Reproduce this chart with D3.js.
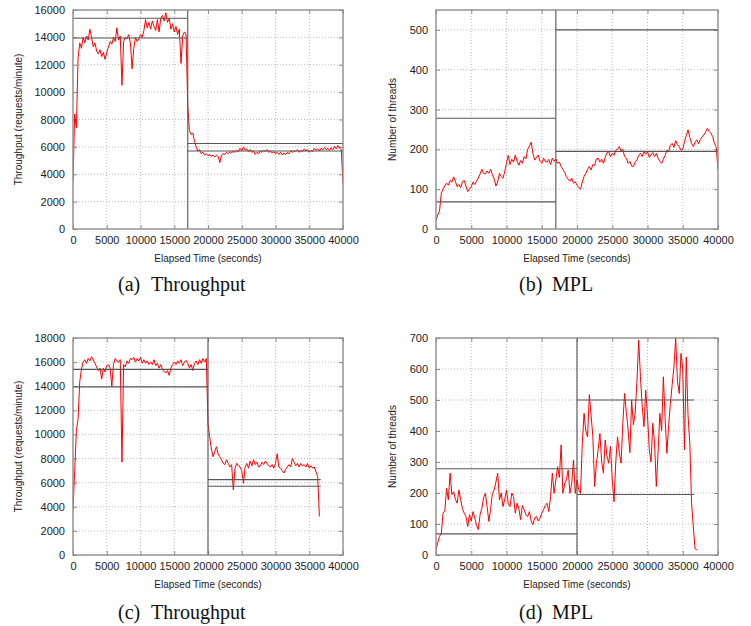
<!DOCTYPE html>
<html>
<head>
<meta charset="utf-8">
<script src="https://cdn.jsdelivr.net/npm/d3@7"></script>
<style>
  body { margin: 0; background: #fff; }
  svg { display: block; }
  .tick text { font-family: "Liberation Sans", Arial, sans-serif; font-size: 11px; fill: #222; }
  .tick line { stroke: #8c8c8c; }
  .title { font-family: "Liberation Sans", Arial, sans-serif; font-size: 10px; fill: #222; }
  .caption { font-family: "Liberation Serif", "Times New Roman", serif; font-size: 20px; fill: #111; }
</style>
</head>
<body>
<svg id="chart" width="751" height="626"></svg>
<script>
// sample spacing of the logged series (seconds)
const sampleStep = 250;
const xTicks = [0, 5000, 10000, 15000, 20000, 25000, 30000, 35000, 40000];

// (a) throughput, requests/minute, every 250 s from 0
const tputA = [
  3500, 8400, 7400, 12500, 13600, 13200, 14000, 13600,
  14100, 13800, 14600, 14000, 13300, 13600, 13000, 12800,
  13100, 12600, 12900, 12400, 12900, 13300, 13700, 13500,
  14000, 13700, 14700, 13800, 14100, 10500, 13700, 14000,
  13900, 14200, 13600, 11700, 13200, 14000, 13700, 13900,
  14200, 14000, 14500, 15300, 14700, 15100, 14600, 15200,
  14800, 14500, 15300, 14400, 15400, 15600, 15200, 15800,
  15100, 15400, 14600, 15000, 14400, 14800, 14200, 14600,
  12100, 14100, 14400, 14200, 9000, 7200, 6900, 7000,
  6400, 6000, 5700, 5800, 5500, 5600, 5400, 5500,
  5350, 5450, 5300, 5400, 5250, 5400, 5300, 4850,
  5400, 5500, 5450, 5600, 5500, 5650, 5550, 5700,
  5600, 5750, 5650, 5900, 5700, 6000, 5750, 5850,
  5650, 5800, 5600, 5700, 5450, 5600, 5500, 5700,
  5600, 5750, 5650, 5800, 5600, 5700, 5550, 5650,
  5500, 5600, 5450, 5600, 5400, 5550, 5450, 5600,
  5500, 5700, 5600, 5750, 5650, 5800, 5600, 5750,
  5650, 5850, 5700, 5800, 5600, 5750, 5650, 5900,
  5750, 5850, 5700, 5900, 5800, 5950, 5800, 5900,
  5750, 5950, 5800, 6050, 5850, 6100, 5900, 5800,
  3300
];

// (b) MPL, number of threads
const mplB = [
  22, 35, 45, 90, 100, 108, 115, 110,
  122, 118, 131, 120, 106, 112, 104, 119,
  122, 108, 94, 100, 106, 118, 112, 120,
  128, 138, 150, 140, 138, 146, 140, 150,
  136, 126, 108, 118, 140, 132, 127, 145,
  165, 185, 162, 175, 168, 186, 170, 160,
  172, 165, 182, 176, 200, 208, 218, 190,
  173, 180, 186, 170, 165, 178, 170, 168,
  175, 162, 178, 170, 176, 165, 168, 157,
  150, 142, 131, 125, 120, 128, 115, 119,
  110, 104, 100, 118, 132, 140, 150, 157,
  148, 162, 160, 176, 178, 168, 175, 165,
  180, 192, 194, 182, 190, 185, 198, 200,
  207, 196, 200, 182, 178, 165, 170, 158,
  157, 168, 173, 185, 190, 182, 194, 188,
  194, 180, 186, 192, 182, 190, 178, 170,
  165, 175, 185, 198, 195, 210, 215, 205,
  222, 212, 207, 198, 200, 220, 235, 249,
  230, 215, 207, 218, 224, 214, 225, 232,
  236, 244, 253, 245, 240, 232, 215, 205,
  148
];

// (c) throughput, second run
const tputC = [
  3750, 7000, 10300, 11300, 14400, 15400, 16000, 16200,
  15900, 16300, 16100, 16450, 16200, 15900, 15600, 15300,
  15500, 14600, 15500, 15200, 15700, 15800, 15500, 14000,
  15800, 16300, 16100, 16000, 16200, 7700, 15800, 15600,
  16100, 15900, 16300, 16200, 16400, 16000, 16300, 16100,
  16400, 15900, 16200, 15900, 16100, 15800, 16000, 15800,
  16200, 15700, 15900, 15500, 15800, 15400, 15200, 15100,
  15300, 14900, 15500, 15800, 16000, 15800, 16100, 15900,
  16200, 15700, 16000, 16150, 15900, 15500, 15800, 15300,
  15900, 16100, 15800, 16200, 15900, 16300, 16000, 16300,
  10900, 9800, 8800, 8150, 8600, 8980, 8400, 8150,
  7900, 7600, 7500, 7900, 7600, 7300, 7500, 5400,
  7200, 7600, 7400, 7300, 7000, 5950, 7300, 7600,
  7200, 7800, 7400, 7900, 7500, 7700, 7300, 7400,
  7700, 7500, 7800, 7600, 7400, 7300, 7500, 7200,
  7600, 8400, 7300, 7200, 7000, 6800, 7100, 7300,
  7500, 7300, 8000, 7700, 7400, 7600, 7300, 7600,
  7400, 7500, 7300, 7600, 7200, 7400, 7200, 7300,
  6900, 6500, 3200
];

// (d) MPL, second run
const mplD = [
  17, 40, 60, 70, 135, 142, 215, 178,
  264, 195, 204, 180, 167, 210, 178, 150,
  135, 124, 92, 130, 110, 140, 120, 95,
  82, 130, 150, 185, 199, 156, 108, 150,
  199, 210, 235, 264, 178, 200, 156, 180,
  210, 165, 156, 200, 188, 135, 167, 150,
  114, 160, 146, 130, 124, 140, 110, 98,
  120, 124, 110, 119, 135, 146, 160, 167,
  140, 188, 264, 199, 242, 285, 250, 355,
  199, 230, 243, 274, 199, 230, 306, 199,
  242, 210, 199, 360, 457, 400, 381, 517,
  450, 381, 221, 296, 340, 392, 300, 264,
  371, 320, 296, 350, 242, 172, 300, 381,
  330, 296, 425, 521, 460, 403, 330, 500,
  420, 457, 560, 693, 575, 480, 414, 532,
  450, 340, 300, 425, 360, 221, 330, 457,
  400, 575, 440, 328, 420, 489, 550, 607,
  700, 560, 521, 650, 600, 340, 639, 450,
  361, 167, 90, 20, 17
];

// reference levels drawn as black lines: [from, to, level]
const guidesA = [[0, 17000, 15400], [0, 17000, 13950], [17000, 40000, 6250], [17000, 40000, 5700]];
const guidesB = [[0, 17000, 278], [0, 17000, 68], [17000, 40000, 500], [17000, 40000, 195]];
const guidesC = [[0, 20000, 15400], [0, 20000, 13950], [20000, 36700, 6250], [20000, 36700, 5700]];
const guidesD = [[0, 20000, 278], [0, 20000, 68], [20000, 36600, 500], [20000, 36600, 195]];

const yTicksA = [0, 2000, 4000, 6000, 8000, 10000, 12000, 14000, 16000];
const yTicksB = [0, 100, 200, 300, 400, 500];
const yTicksC = [0, 2000, 4000, 6000, 8000, 10000, 12000, 14000, 16000, 18000];
const yTicksD = [0, 100, 200, 300, 400, 500, 600, 700];

const svg = d3.select('#chart');
const fmt = d3.format('d');

let drawPanel = (p, idx) => {
  let x = d3.scaleLinear().domain([0, 40000]).range([p.left, p.right]);
  let y = d3.scaleLinear().domain([0, p.yMax]).range([p.bottom, p.top]);
  let g = svg.append('g');

  // dotted grid
  g.selectAll(null).data(xTicks.filter(v => v > 0 && v < 40000)).enter().append('line')
    .attr('x1', d => x(d)).attr('x2', d => x(d))
    .attr('y1', p.top).attr('y2', p.bottom)
    .attr('stroke', '#bbb').attr('stroke-dasharray', '1,2');
  g.selectAll(null).data(p.yTicks.filter(v => v > 0 && v < p.yMax)).enter().append('line')
    .attr('x1', p.left).attr('x2', p.right)
    .attr('y1', d => y(d)).attr('y2', d => y(d))
    .attr('stroke', '#bbb').attr('stroke-dasharray', '1,2');

  // axes, ticks pointing inward on all sides
  g.append('g').attr('transform', `translate(0,${p.bottom})`)
    .call(d3.axisBottom(x).tickValues(xTicks).tickFormat(fmt).tickSizeInner(-4).tickSizeOuter(0).tickPadding(7))
    .call(a => a.select('.domain').remove());
  g.append('g').attr('transform', `translate(0,${p.top})`)
    .call(d3.axisTop(x).tickValues(xTicks).tickSizeInner(-4).tickSizeOuter(0).tickFormat(''))
    .call(a => a.select('.domain').remove());
  g.append('g').attr('transform', `translate(${p.left},0)`)
    .call(d3.axisLeft(y).tickValues(p.yTicks).tickFormat(fmt).tickSizeInner(-4).tickSizeOuter(0).tickPadding(8))
    .call(a => a.select('.domain').remove());
  g.append('g').attr('transform', `translate(${p.right},0)`)
    .call(d3.axisRight(y).tickValues(p.yTicks).tickSizeInner(-4).tickSizeOuter(0).tickFormat(''))
    .call(a => a.select('.domain').remove());

  g.selectAll('.tick line').attr('stroke', '#8c8c8c');
  g.selectAll('.tick text').attr('fill', '#222');

  // data
  let clipId = 'clip' + idx;
  g.append('clipPath').attr('id', clipId).append('rect')
    .attr('x', p.left).attr('y', p.top)
    .attr('width', p.right - p.left).attr('height', p.bottom - p.top);

  let line = d3.line().x((d, i) => x(i * sampleStep)).y(d => y(d));
  g.append('path').datum(p.values)
    .attr('clip-path', `url(#${clipId})`)
    .attr('d', line)
    .attr('fill', 'none').attr('stroke', '#ff0000')
    .attr('stroke-width', 1).attr('stroke-linejoin', 'round');

  // reference levels and switch time
  g.selectAll(null).data(p.guides).enter().append('line')
    .attr('x1', d => x(d[0])).attr('x2', d => x(d[1]))
    .attr('y1', d => y(d[2])).attr('y2', d => y(d[2]))
    .attr('stroke', '#555').attr('stroke-width', 1.1);
  g.append('line')
    .attr('x1', x(p.switchAt)).attr('x2', x(p.switchAt))
    .attr('y1', p.top).attr('y2', p.bottom)
    .attr('stroke', '#555').attr('stroke-width', 1.1);

  // frame
  g.append('rect')
    .attr('x', p.left).attr('y', p.top)
    .attr('width', p.right - p.left).attr('height', p.bottom - p.top)
    .attr('fill', 'none').attr('stroke', '#8c8c8c').attr('stroke-width', 1.4);

  // titles
  g.append('text').attr('class', 'title')
    .attr('transform', `translate(${p.yTitleX},${(p.top + p.bottom) / 2}) rotate(-90)`)
    .attr('text-anchor', 'middle').attr('dy', '0.35em')
    .text(p.yTitle);
  g.append('text').attr('class', 'title')
    .attr('x', (p.left + p.right) / 2).attr('y', p.bottom + 33)
    .attr('text-anchor', 'middle')
    .text('Elapsed Time (seconds)');

  // sub-caption
  g.append('text').attr('class', 'caption')
    .attr('x', p.capX).attr('y', p.capY).text(p.capTag);
  g.append('text').attr('class', 'caption')
    .attr('x', p.capX + 33).attr('y', p.capY).text(p.capText);
};

const panels = [
  { left: 73, right: 343, top: 10, bottom: 229, yMax: 16000, yTicks: yTicksA, values: tputA,
    guides: guidesA, switchAt: 17000, yTitle: 'Throughput (requests/minute)', yTitleX: 18,
    capX: 118, capY: 291, capTag: '(a)', capText: 'Throughput' },
  { left: 436, right: 718, top: 10, bottom: 229, yMax: 550, yTicks: yTicksB, values: mplB,
    guides: guidesB, switchAt: 17000, yTitle: 'Number of threads', yTitleX: 392,
    capX: 519, capY: 291, capTag: '(b)', capText: 'MPL' },
  { left: 73, right: 343, top: 338, bottom: 555, yMax: 18000, yTicks: yTicksC, values: tputC,
    guides: guidesC, switchAt: 20000, yTitle: 'Throughput (requests/minute)', yTitleX: 18,
    capX: 118, capY: 619, capTag: '(c)', capText: 'Throughput' },
  { left: 436, right: 718, top: 338, bottom: 555, yMax: 700, yTicks: yTicksD, values: mplD,
    guides: guidesD, switchAt: 20000, yTitle: 'Number of threads', yTitleX: 392,
    capX: 519, capY: 619, capTag: '(d)', capText: 'MPL' }
];

panels.forEach(drawPanel);
</script>
</body>
</html>
